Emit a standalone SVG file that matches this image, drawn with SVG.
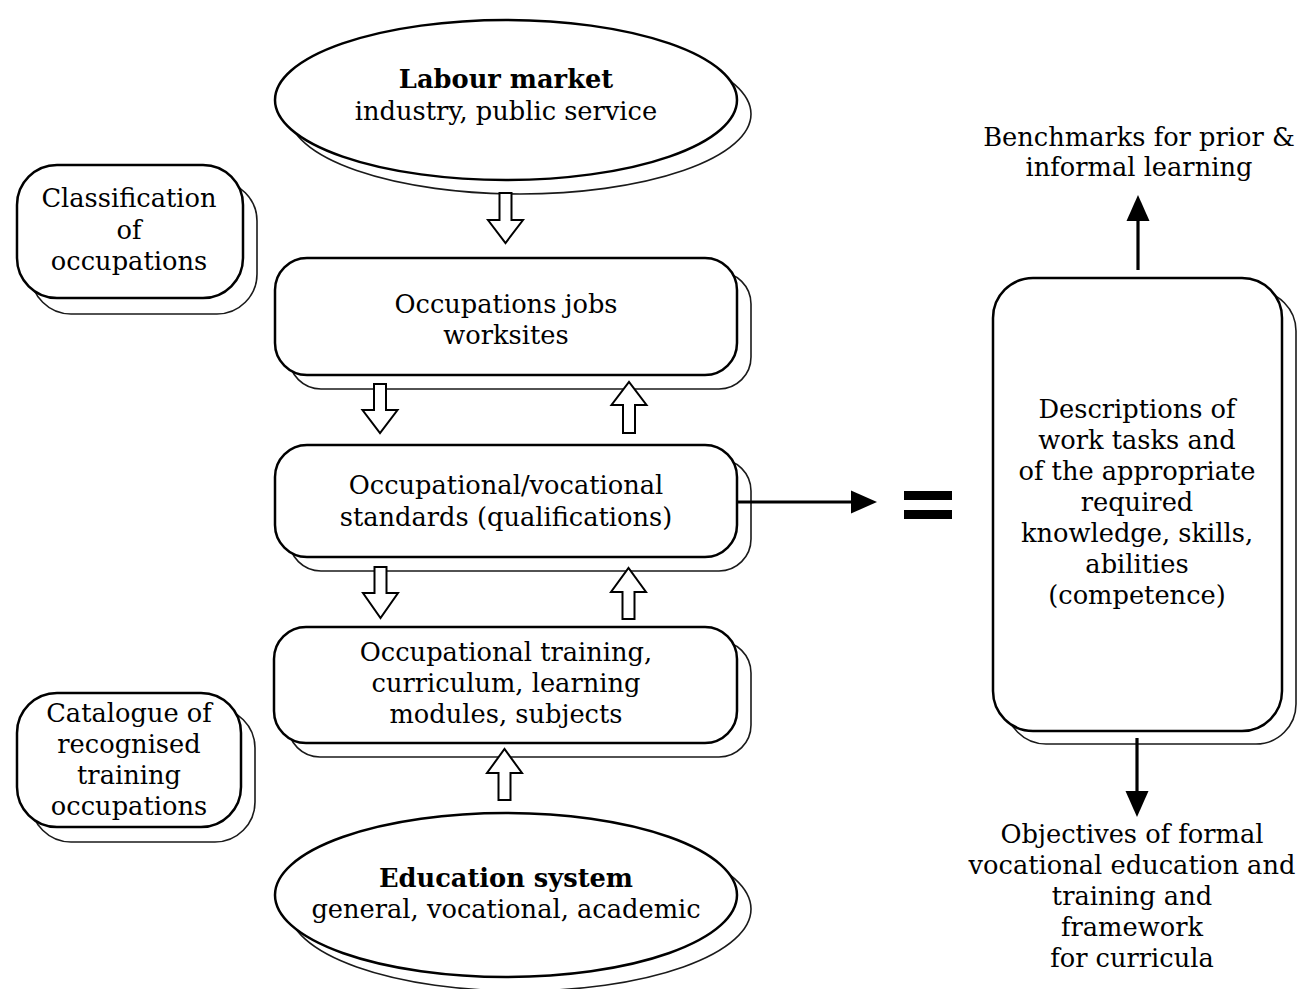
<svg xmlns="http://www.w3.org/2000/svg" width="1300" height="989" viewBox="0 0 1300 989">
  <defs>
    <style>
      .shape { fill: #ffffff; stroke: #000000; stroke-width: 2.5; }
      .shadow { fill: #ffffff; stroke: #1a1a1a; stroke-width: 1.6; }
      .blk { fill: #ffffff; stroke: #000000; stroke-width: 2; stroke-linejoin: miter; }
      .conn { fill: none; stroke: #000000; stroke-width: 3.2; }
      .t { font-family: "DejaVu Serif", "Liberation Serif", serif; font-size: 25.7px; fill: #000000; text-anchor: middle; }
      .b { font-weight: bold; }
      .eq { fill: #000000; }
    </style>
    <marker id="head" markerUnits="userSpaceOnUse" viewBox="0 -13 27 26" refX="0" refY="0" markerWidth="27" markerHeight="26" orient="auto">
      <path d="M0,-11.5 L26,0 L0,11.5 z" fill="#000000"/>
    </marker>
  </defs>

  <rect width="1300" height="989" fill="#ffffff"/>

  <!-- Labour market -->
  <g id="labour-market">
    <ellipse class="shadow" cx="520" cy="114" rx="231" ry="80"/>
    <ellipse class="shape" cx="506" cy="100" rx="231" ry="80"/>
    <text class="t b" x="506" y="88">Labour market</text>
    <text class="t" x="506" y="120">industry, public service</text>
  </g>

  <!-- Classification of occupations -->
  <g id="classification">
    <rect class="shadow" x="31" y="181" width="226" height="133" rx="40"/>
    <rect class="shape" x="17" y="165" width="226" height="133" rx="40"/>
    <text class="t" x="129" y="207">Classification</text>
    <text class="t" x="129" y="239">of</text>
    <text class="t" x="129" y="270">occupations</text>
  </g>

  <!-- Occupations jobs worksites -->
  <g id="occupations">
    <rect class="shadow" x="289" y="272" width="462" height="117" rx="32"/>
    <rect class="shape" x="275" y="258" width="462" height="117" rx="32"/>
    <text class="t" x="506" y="313">Occupations jobs</text>
    <text class="t" x="506" y="344">worksites</text>
  </g>

  <!-- Occupational / vocational standards -->
  <g id="standards">
    <rect class="shadow" x="289" y="459" width="462" height="112" rx="32"/>
    <rect class="shape" x="275" y="445" width="462" height="112" rx="32"/>
    <text class="t" x="506" y="494">Occupational/vocational</text>
    <text class="t" x="506" y="526">standards (qualifications)</text>
  </g>

  <!-- Occupational training -->
  <g id="training">
    <rect class="shadow" x="288" y="641" width="463" height="116" rx="32"/>
    <rect class="shape" x="274" y="627" width="463" height="116" rx="32"/>
    <text class="t" x="506" y="661">Occupational training,</text>
    <text class="t" x="506" y="692">curriculum, learning</text>
    <text class="t" x="506" y="723">modules, subjects</text>
  </g>

  <!-- Catalogue of recognised training occupations -->
  <g id="catalogue">
    <rect class="shadow" x="31" y="708" width="224" height="134" rx="40"/>
    <rect class="shape" x="17" y="693" width="224" height="134" rx="40"/>
    <text class="t" x="129" y="722">Catalogue of</text>
    <text class="t" x="129" y="753">recognised</text>
    <text class="t" x="129" y="784">training</text>
    <text class="t" x="129" y="815">occupations</text>
  </g>

  <!-- Education system -->
  <g id="education-system">
    <ellipse class="shadow" cx="520" cy="909" rx="231" ry="82"/>
    <ellipse class="shape" cx="506" cy="895" rx="231" ry="82"/>
    <text class="t b" x="506" y="887">Education system</text>
    <text class="t" x="506" y="918">general, vocational, academic</text>
  </g>

  <!-- Descriptions of work tasks -->
  <g id="descriptions">
    <rect class="shadow" x="1006" y="291" width="290" height="453" rx="40"/>
    <rect class="shape" x="993" y="278" width="289" height="453" rx="40"/>
    <text class="t" x="1137" y="418">Descriptions of</text>
    <text class="t" x="1137" y="449">work tasks and</text>
    <text class="t" x="1137" y="480">of the appropriate</text>
    <text class="t" x="1137" y="511">required</text>
    <text class="t" x="1137" y="542">knowledge, skills,</text>
    <text class="t" x="1137" y="573">abilities</text>
    <text class="t" x="1137" y="604">(competence)</text>
  </g>

  <!-- Benchmarks -->
  <g id="benchmarks">
    <text class="t" x="1139" y="146">Benchmarks for prior &amp;</text>
    <text class="t" x="1139" y="176">informal learning</text>
  </g>

  <!-- Objectives -->
  <g id="objectives">
    <text class="t" x="1132" y="843">Objectives of formal</text>
    <text class="t" x="1132" y="874">vocational education and</text>
    <text class="t" x="1132" y="905">training and</text>
    <text class="t" x="1132" y="936">framework</text>
    <text class="t" x="1132" y="967">for curricula</text>
  </g>

  <!-- Equals sign -->
  <g id="equals">
    <rect class="eq" x="904" y="491" width="48" height="9"/>
    <rect class="eq" x="904" y="510" width="48" height="9"/>
  </g>

  <!-- Connectors -->
  <g id="connectors">
    <!-- hollow block arrows along the central column -->
    <path class="blk" d="M499.5,193 H511.5 V220 H523 L505.5,243 L488,220 H499.5 Z"/>
    <path class="blk" d="M374,384 H386 V410 H397.5 L380,433 L362.5,410 H374 Z"/>
    <path class="blk" d="M623,433 H635 V405 H646.5 L629,382 L611.5,405 H623 Z"/>
    <path class="blk" d="M374.5,567 H386.5 V593 H398 L380.5,618 L363,593 H374.5 Z"/>
    <path class="blk" d="M622.5,619 H634.5 V592 H646 L628.5,568 L611,592 H622.5 Z"/>
    <path class="blk" d="M498.5,800 H510.5 V773 H522 L504.5,749 L487,773 H498.5 Z"/>

    <!-- solid arrows -->
    <line class="conn" x1="738" y1="502" x2="851" y2="502" marker-end="url(#head)"/>
    <line class="conn" x1="1138" y1="270" x2="1138" y2="221" marker-end="url(#head)"/>
    <line class="conn" x1="1137" y1="738" x2="1137" y2="791" marker-end="url(#head)"/>
  </g>
</svg>
